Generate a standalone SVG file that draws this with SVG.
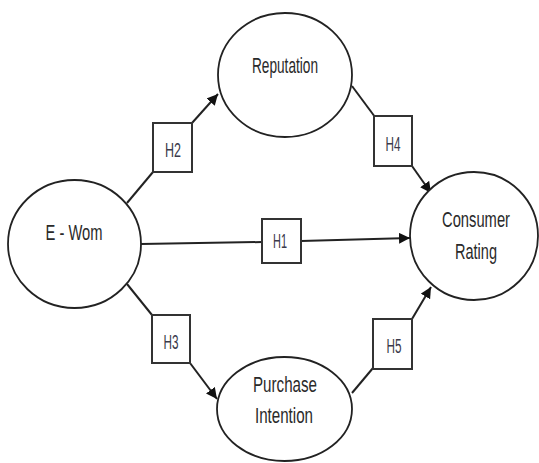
<svg xmlns="http://www.w3.org/2000/svg" width="539" height="463" viewBox="0 0 539 463">
<defs>
<marker id="ah" viewBox="0 0 10 10" refX="10" refY="5" markerWidth="5.5" markerHeight="5.5" orient="auto" markerUnits="strokeWidth">
<path d="M0,0 L10,5 L0,10 z" fill="#111"/>
</marker>
<style>
.node ellipse{fill:#fff;stroke:#222;stroke-width:1.8}
.box rect{fill:#fff;stroke:#333;stroke-width:2}
.lbl{font-family:"Liberation Sans",Arial,sans-serif;font-size:22px;fill:#2a2a2a;text-anchor:middle}
.hl{font-family:"Liberation Sans",Arial,sans-serif;font-size:20px;fill:#3a3a4a;text-anchor:middle}
.conn line{stroke:#222;stroke-width:2;fill:none}
</style>
</defs>
<rect width="539" height="463" fill="#fff"/>
<g id="connectors" class="conn">
<line x1="127" y1="203" x2="153" y2="172"/>
<line x1="192" y1="123" x2="218" y2="94" marker-end="url(#ah)"/>
<line x1="352" y1="86" x2="375" y2="117"/>
<line x1="412" y1="166" x2="431" y2="193" marker-end="url(#ah)"/>
<line x1="141" y1="244" x2="262" y2="242"/>
<line x1="301" y1="241" x2="410" y2="238" marker-end="url(#ah)"/>
<line x1="127" y1="284" x2="152" y2="315"/>
<line x1="190" y1="363" x2="217" y2="399" marker-end="url(#ah)"/>
<line x1="352" y1="393" x2="373" y2="368"/>
<line x1="412" y1="319" x2="431" y2="287" marker-end="url(#ah)"/>
</g>
<g id="n-ewom" class="node">
<ellipse cx="74.5" cy="244" rx="66.5" ry="64"/>
<text class="lbl" x="74" y="240" textLength="57" lengthAdjust="spacingAndGlyphs">E - Wom</text>
</g>
<g id="n-reputation" class="node">
<ellipse cx="285" cy="75" rx="67" ry="62"/>
<text class="lbl" x="285" y="73" textLength="66" lengthAdjust="spacingAndGlyphs">Reputation</text>
</g>
<g id="n-consumer" class="node">
<ellipse cx="474" cy="236" rx="64" ry="64"/>
<text class="lbl" x="476" y="227" textLength="68" lengthAdjust="spacingAndGlyphs">Consumer</text>
<text class="lbl" x="476" y="259" textLength="42" lengthAdjust="spacingAndGlyphs">Rating</text>
</g>
<g id="n-purchase" class="node">
<ellipse cx="284.5" cy="409" rx="67.5" ry="52"/>
<text class="lbl" x="285" y="392" textLength="64" lengthAdjust="spacingAndGlyphs">Purchase</text>
<text class="lbl" x="284" y="423" textLength="58" lengthAdjust="spacingAndGlyphs">Intention</text>
</g>
<g id="h2" class="box">
<rect x="153" y="123" width="39" height="49"/>
<text class="hl" x="173" y="157" textLength="16" lengthAdjust="spacingAndGlyphs">H2</text>
</g>
<g id="h4" class="box">
<rect x="374" y="116" width="38" height="50"/>
<text class="hl" x="393" y="151" textLength="15" lengthAdjust="spacingAndGlyphs">H4</text>
</g>
<g id="h1" class="box">
<rect x="262" y="219" width="39" height="44"/>
<text class="hl" x="280" y="248" textLength="14" lengthAdjust="spacingAndGlyphs">H1</text>
</g>
<g id="h3" class="box">
<rect x="152" y="315" width="38" height="48"/>
<text class="hl" x="171" y="349" textLength="15" lengthAdjust="spacingAndGlyphs">H3</text>
</g>
<g id="h5" class="box">
<rect x="373" y="319" width="39" height="50"/>
<text class="hl" x="394" y="353" textLength="15" lengthAdjust="spacingAndGlyphs">H5</text>
</g>
</svg>
